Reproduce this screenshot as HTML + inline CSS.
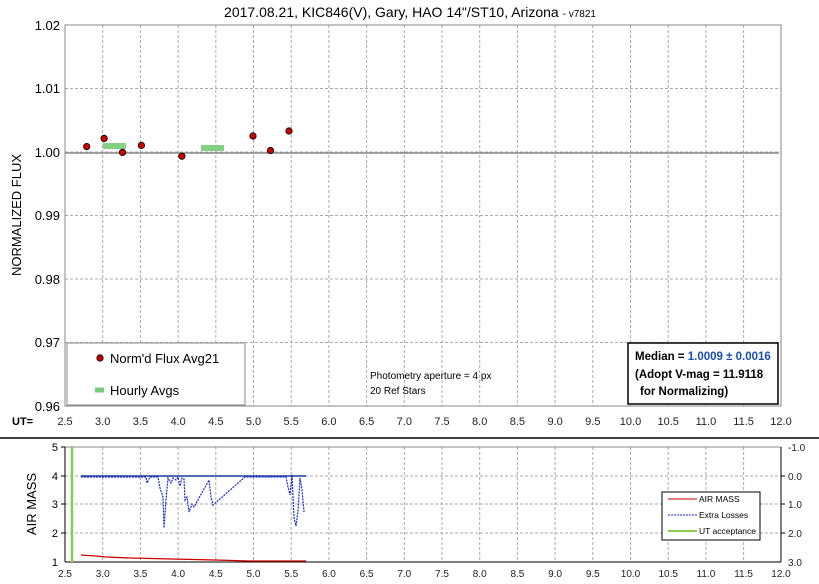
<!DOCTYPE html><html><head><style>body{margin:0;background:#fff}svg{display:block;font-family:"Liberation Sans",sans-serif}</style></head><body>
<svg width="819" height="584" viewBox="0 0 819 584">
<rect width="819" height="584" fill="#fff"/>
<text x="410" y="17" font-size="14" text-anchor="middle">2017.08.21, KIC846(V), Gary, HAO 14"/ST10, Arizona <tspan font-size="10">- v7821</tspan></text>
<g stroke="#aaa" stroke-dasharray="3,2" stroke-width="1">
<line x1="102.7" y1="25" x2="102.7" y2="406"/><line x1="140.4" y1="25" x2="140.4" y2="406"/><line x1="178.1" y1="25" x2="178.1" y2="406"/><line x1="215.8" y1="25" x2="215.8" y2="406"/><line x1="253.5" y1="25" x2="253.5" y2="406"/><line x1="291.2" y1="25" x2="291.2" y2="406"/><line x1="328.9" y1="25" x2="328.9" y2="406"/><line x1="366.6" y1="25" x2="366.6" y2="406"/><line x1="404.3" y1="25" x2="404.3" y2="406"/><line x1="442" y1="25" x2="442" y2="406"/><line x1="479.7" y1="25" x2="479.7" y2="406"/><line x1="517.4" y1="25" x2="517.4" y2="406"/><line x1="555.1" y1="25" x2="555.1" y2="406"/><line x1="592.8" y1="25" x2="592.8" y2="406"/><line x1="630.5" y1="25" x2="630.5" y2="406"/><line x1="668.2" y1="25" x2="668.2" y2="406"/><line x1="705.9" y1="25" x2="705.9" y2="406"/><line x1="743.6" y1="25" x2="743.6" y2="406"/>
<line x1="65" y1="88.5" x2="781" y2="88.5"/><line x1="65" y1="152" x2="781" y2="152"/><line x1="65" y1="215.5" x2="781" y2="215.5"/><line x1="65" y1="279" x2="781" y2="279"/><line x1="65" y1="342.5" x2="781" y2="342.5"/>
</g>
<rect x="65" y="25" width="716" height="381" fill="none" stroke="#888"/>
<line x1="65" y1="153" x2="779" y2="153" stroke="#888" stroke-width="1.5"/>
<g stroke="#7c7" stroke-width="6" opacity=".9"><line x1="103" y1="146" x2="126" y2="146"/><line x1="201" y1="148" x2="224" y2="148"/></g>
<g fill="#c00" stroke="#000" stroke-width="0.8">
<circle cx="86.7" cy="146.6" r="3.2"/><circle cx="104.1" cy="138.4" r="3.2"/><circle cx="122.5" cy="152.4" r="3.2"/><circle cx="141.4" cy="145.4" r="3.2"/><circle cx="181.9" cy="156.2" r="3.2"/><circle cx="253" cy="136" r="3.2"/><circle cx="270.5" cy="150.5" r="3.2"/><circle cx="289" cy="131" r="3.2"/>
</g>
<g font-size="13" text-anchor="end"><text x="60" y="30">1.02</text><text x="60" y="93">1.01</text><text x="60" y="157">1.00</text><text x="60" y="220">0.99</text><text x="60" y="284">0.98</text><text x="60" y="347">0.97</text><text x="60" y="411">0.96</text></g>
<text transform="translate(21,215) rotate(-90)" font-size="13" text-anchor="middle">NORMALIZED FLUX</text>
<rect x="67" y="343" width="178" height="62" fill="#fff" stroke="#888"/>
<circle cx="100" cy="358" r="3.2" fill="#c00" stroke="#000" stroke-width=".8"/>
<text x="110" y="363" font-size="13">Norm'd Flux Avg21</text>
<line x1="95" y1="390" x2="104" y2="390" stroke="#7c7" stroke-width="5"/>
<text x="110" y="395" font-size="13">Hourly Avgs</text>
<text x="370" y="379" font-size="10">Photometry aperture = 4 px</text>
<text x="370" y="394" font-size="10">20 Ref Stars</text>
<rect x="628" y="343" width="150" height="61" fill="#fff" stroke="#000" stroke-width="1.5"/>
<g font-size="11.5" font-weight="bold"><text x="635" y="360">Median = <tspan fill="#1a4fb0">1.0009 ± 0.0016</tspan></text><text x="635" y="378">(Adopt V-mag = 11.9118</text><text x="640" y="395">for Normalizing)</text></g>
<text x="12" y="425" font-size="11" font-weight="bold">UT=</text>
<g font-size="11" text-anchor="middle" fill="#222"><text x="65" y="425">2.5</text><text x="102.7" y="425">3.0</text><text x="140.4" y="425">3.5</text><text x="178.1" y="425">4.0</text><text x="215.8" y="425">4.5</text><text x="253.5" y="425">5.0</text><text x="291.2" y="425">5.5</text><text x="328.9" y="425">6.0</text><text x="366.6" y="425">6.5</text><text x="404.3" y="425">7.0</text><text x="442" y="425">7.5</text><text x="479.7" y="425">8.0</text><text x="517.4" y="425">8.5</text><text x="555.1" y="425">9.0</text><text x="592.8" y="425">9.5</text><text x="630.5" y="425">10.0</text><text x="668.2" y="425">10.5</text><text x="705.9" y="425">11.0</text><text x="743.6" y="425">11.5</text><text x="781" y="425">12.0</text></g>
<line x1="0" y1="438" x2="819" y2="438" stroke="#000" stroke-width="1.5"/>
<g stroke="#aaa" stroke-dasharray="3,2">
<line x1="102.7" y1="447" x2="102.7" y2="562"/><line x1="140.4" y1="447" x2="140.4" y2="562"/><line x1="178.1" y1="447" x2="178.1" y2="562"/><line x1="215.8" y1="447" x2="215.8" y2="562"/><line x1="253.5" y1="447" x2="253.5" y2="562"/><line x1="291.2" y1="447" x2="291.2" y2="562"/><line x1="328.9" y1="447" x2="328.9" y2="562"/><line x1="366.6" y1="447" x2="366.6" y2="562"/><line x1="404.3" y1="447" x2="404.3" y2="562"/><line x1="442" y1="447" x2="442" y2="562"/><line x1="479.7" y1="447" x2="479.7" y2="562"/><line x1="517.4" y1="447" x2="517.4" y2="562"/><line x1="555.1" y1="447" x2="555.1" y2="562"/><line x1="592.8" y1="447" x2="592.8" y2="562"/><line x1="630.5" y1="447" x2="630.5" y2="562"/><line x1="668.2" y1="447" x2="668.2" y2="562"/><line x1="705.9" y1="447" x2="705.9" y2="562"/><line x1="743.6" y1="447" x2="743.6" y2="562"/>
<line x1="65" y1="476" x2="781" y2="476"/><line x1="65" y1="504" x2="781" y2="504"/><line x1="65" y1="533" x2="781" y2="533"/>
</g>
<line x1="65" y1="447" x2="781" y2="447" stroke="#888"/>
<line x1="65" y1="447" x2="65" y2="562" stroke="#000"/><line x1="65" y1="562" x2="781" y2="562" stroke="#000"/><line x1="781" y1="447" x2="781" y2="562" stroke="#000"/>
<g stroke="#000"><line x1="61" y1="447" x2="65" y2="447"/><line x1="61" y1="476" x2="65" y2="476"/><line x1="61" y1="504" x2="65" y2="504"/><line x1="61" y1="533" x2="65" y2="533"/><line x1="781" y1="476" x2="785" y2="476"/><line x1="781" y1="504" x2="785" y2="504"/><line x1="781" y1="533" x2="785" y2="533"/></g>
<line x1="72" y1="447" x2="72" y2="562" stroke="#8c5" stroke-width="2.5"/>
<line x1="81" y1="476" x2="306" y2="476" stroke="#1a3a9a" stroke-width="1.5"/>
<polyline fill="none" stroke="#c00" stroke-width="1.3" points="81,555 96,556 106,557 130,558 172,559 215,560 250,561 306,561"/>
<polyline fill="none" stroke="#1a2acc" stroke-width="1.2" stroke-dasharray="2,1" points="81,477 146,477 147,483 150,477 158,477 160,488 163,497 164,528 166,500 168,478 171,483 173,478 176,480 178,477 180,486 182,478 184,479 185,500 187,497 189,512 192,504 194,507 209,480 211,497 213,505 245,477 286,477 288,487 290,495 292,475 294,518 296,526 298,511 300,478 302,490 304,512"/>
<g font-size="11" text-anchor="end"><text x="58" y="451">5</text><text x="58" y="480">4</text><text x="58" y="508">3</text><text x="58" y="537">2</text><text x="58" y="566">1</text></g>
<g font-size="10" fill="#222"><text x="788" y="451">-1.0</text><text x="788" y="480">0.0</text><text x="788" y="508">1.0</text><text x="788" y="537">2.0</text><text x="788" y="566">3.0</text></g>
<text transform="translate(36,504) rotate(-90)" font-size="13" text-anchor="middle">AIR MASS</text>
<g font-size="10" text-anchor="middle" fill="#222"><text x="65" y="577">2.5</text><text x="102.7" y="577">3.0</text><text x="140.4" y="577">3.5</text><text x="178.1" y="577">4.0</text><text x="215.8" y="577">4.5</text><text x="253.5" y="577">5.0</text><text x="291.2" y="577">5.5</text><text x="328.9" y="577">6.0</text><text x="366.6" y="577">6.5</text><text x="404.3" y="577">7.0</text><text x="442" y="577">7.5</text><text x="479.7" y="577">8.0</text><text x="517.4" y="577">8.5</text><text x="555.1" y="577">9.0</text><text x="592.8" y="577">9.5</text><text x="630.5" y="577">10.0</text><text x="668.2" y="577">10.5</text><text x="705.9" y="577">11.0</text><text x="743.6" y="577">11.5</text><text x="781" y="577">12.0</text></g>
<rect x="662" y="492" width="98" height="48" fill="#fff" stroke="#000"/>
<line x1="668" y1="499" x2="697" y2="499" stroke="#c00"/><text x="699" y="502" font-size="8.5">AIR MASS</text>
<line x1="668" y1="515" x2="697" y2="515" stroke="#1a2acc" stroke-dasharray="2,1"/><text x="699" y="518" font-size="8.5">Extra Losses</text>
<line x1="668" y1="531" x2="697" y2="531" stroke="#8c5" stroke-width="2"/><text x="699" y="534" font-size="8.5">UT acceptance</text>
</svg></body></html>
